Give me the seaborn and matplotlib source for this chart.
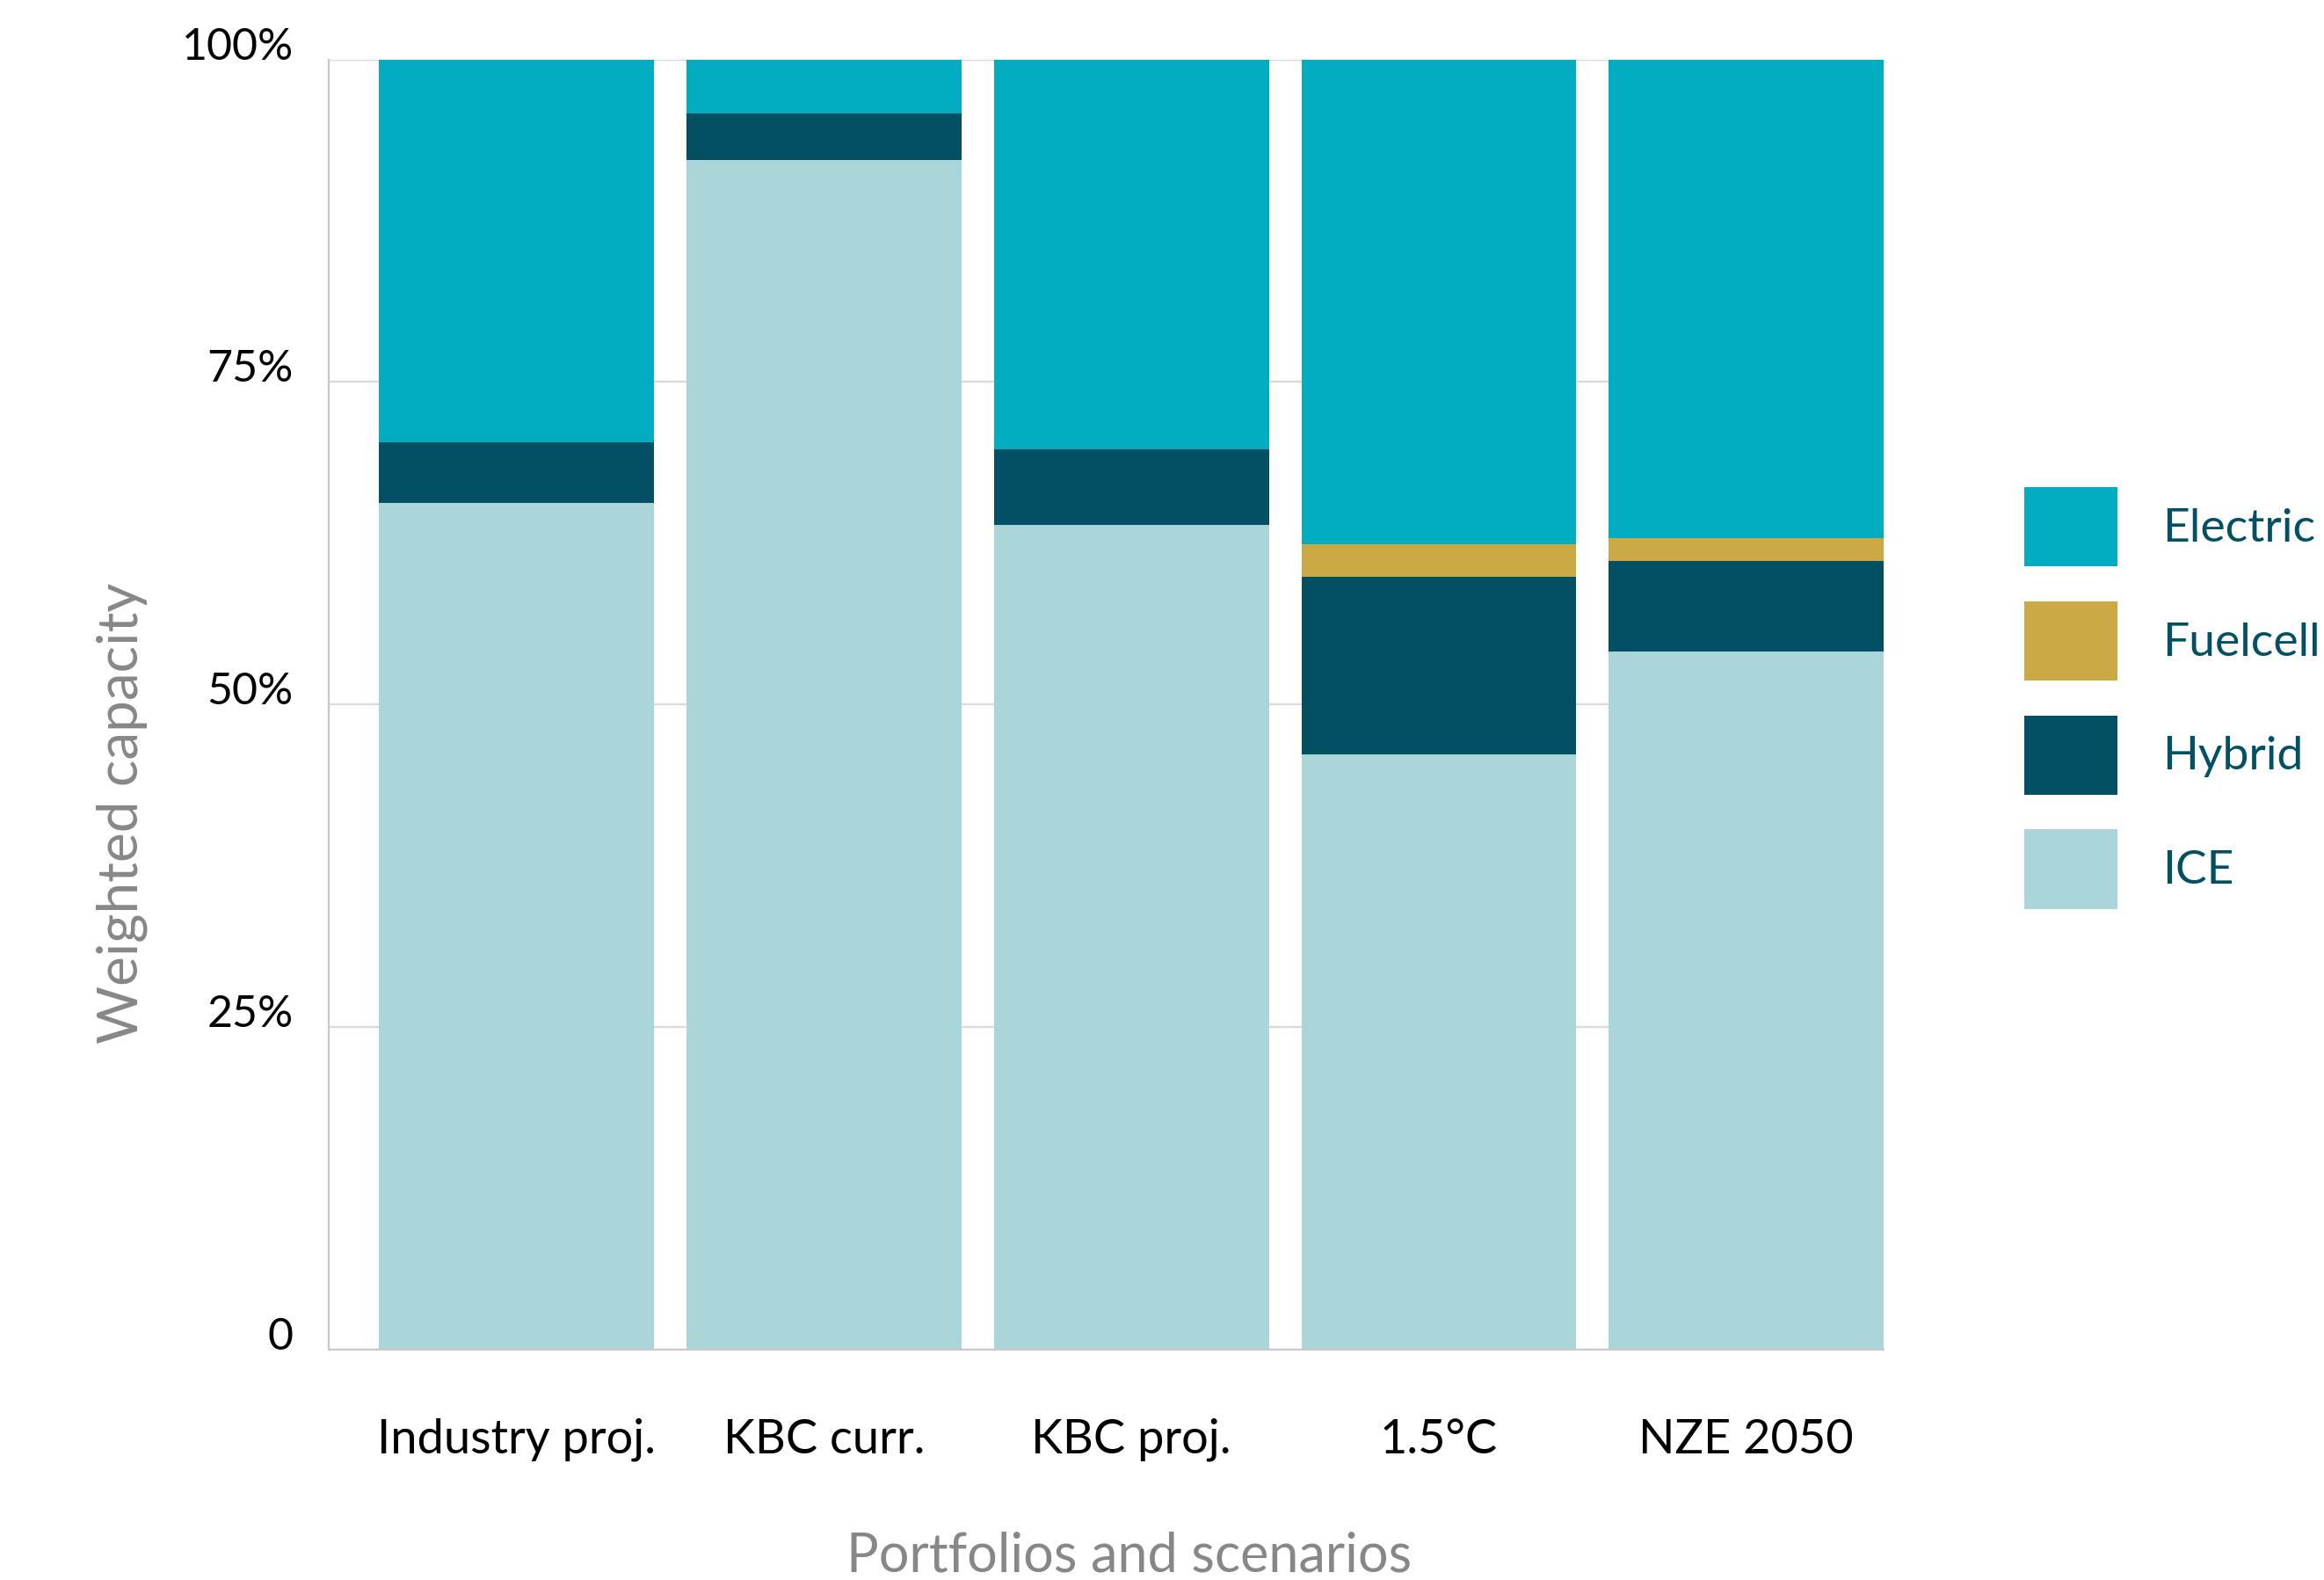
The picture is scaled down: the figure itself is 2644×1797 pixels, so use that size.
import matplotlib
matplotlib.use("Agg")
import matplotlib.pyplot as plt
import seaborn as sns
import numpy as np
import pandas as pd
from matplotlib.patches import Patch

# ---- data ----
categories = ["Industry proj.", "KBC curr.", "KBC proj.", "1.5°C", "NZE 2050"]
ice = [65.6, 92.2, 63.9, 46.1, 54.1]
hybrid = [4.7, 3.6, 5.9, 13.8, 7.0]
fuelcell = [0.0, 0.0, 0.0, 2.5, 1.8]
electric = [29.7, 4.2, 30.2, 37.6, 37.1]
series_names = ["Electric", "Fuelcell", "Hybrid", "ICE"]
y_ticks = [0, 25, 50, 75, 100]
y_ticklabels = ["0", "25%", "50%", "75%", "100%"]

colors = {"Electric": "#02ADC2", "Fuelcell": "#CBAA45",
          "Hybrid": "#034F64", "ICE": "#AAD5D9"}

sns.set_theme(style="white")
plt.rcParams["font.family"] = ["Lato", "DejaVu Sans"]

fig = plt.figure(figsize=(26.44, 17.97), dpi=100)
ax = fig.add_axes([374 / 2644, 1 - 1535 / 1797, (2143 - 374) / 2644, (1535 - 67.5) / 1797])

df = pd.DataFrame({"category": categories, "ICE": ice, "Hybrid": hybrid,
                   "Fuelcell": fuelcell, "Electric": electric})
# cumulative tops for overlapping-bar stacking
df["ICE_top"] = df["ICE"]
df["Hybrid_top"] = df["ICE_top"] + df["Hybrid"]
df["Fuelcell_top"] = df["Hybrid_top"] + df["Fuelcell"]
df["Electric_top"] = df["Fuelcell_top"] + df["Electric"]

for name in series_names:  # draw tallest first
    sns.barplot(data=df, x="category", y=f"{name}_top", color=colors[name],
                saturation=1, width=0.894, ax=ax, order=categories,
                linewidth=0, zorder=2)

ax.set_xlim(-0.611, 4.447)
ax.set_ylim(0, 100)
ax.set_yticks(y_ticks)
ax.set_yticklabels(y_ticklabels)
for lbl in ax.get_yticklabels():
    lbl.set_verticalalignment("baseline")
ax.tick_params(axis="y", length=0, pad=29, labelsize=36, labelcolor="black")
ax.tick_params(axis="x", length=0, pad=56, labelsize=39, labelcolor="black")

ax.grid(axis="y", color="#D9D9D9", linewidth=1.6, zorder=0)
ax.grid(axis="x", visible=False)
ax.set_axisbelow(True)
for s in ["top", "right"]:
    ax.spines[s].set_visible(False)
for s in ["left", "bottom"]:
    ax.spines[s].set_color("#C8C8C8")
    ax.spines[s].set_linewidth(1.6)

ax.set_xlabel("Portfolios and scenarios", fontsize=44, color="#878787")
ax.xaxis.label.set_va("center")
ax.xaxis.set_label_coords(0.515, -0.160)
ax.set_ylabel("Weighted capacity", fontsize=46, color="#878787")
ax.yaxis.label.set_va("center")
ax.yaxis.set_label_coords(-0.133, 0.416)

handles = [Patch(facecolor=colors[n], edgecolor="none", label=n) for n in series_names]
leg = fig.legend(handles=handles, loc="upper left",
                 bbox_to_anchor=(2303 / 2644, 1 - 554 / 1797),
                 bbox_transform=fig.transFigure, frameon=False, fontsize=38.5,
                 handlelength=1.98, handleheight=2.22, labelspacing=0.74,
                 handletextpad=0.95, borderpad=0, borderaxespad=0)
for t in leg.get_texts():
    t.set_color("#034F64")

fig.savefig("out.png", dpi=100)
